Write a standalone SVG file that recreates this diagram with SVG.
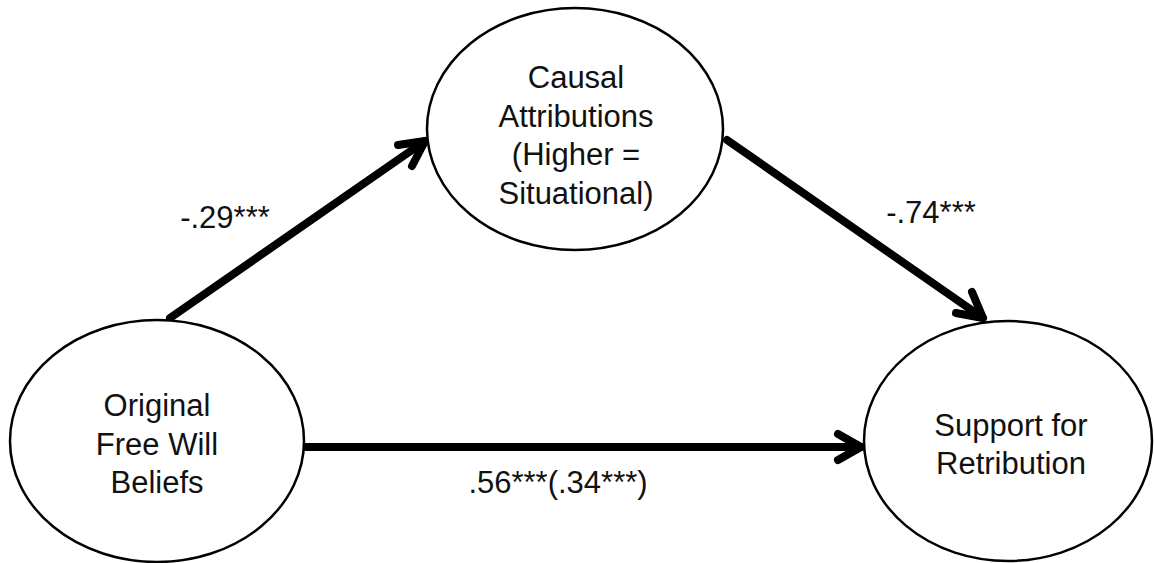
<svg xmlns="http://www.w3.org/2000/svg" width="1154" height="563" viewBox="0 0 1154 563">
<style>
.node{fill:#fff;stroke:#000;stroke-width:2.5}
text{font-family:"Liberation Sans",Arial,Helvetica,sans-serif;font-size:31px;fill:#111;text-anchor:middle}
.edge{stroke:#000;stroke-width:8;fill:none;stroke-linecap:round;stroke-linejoin:round}
</style>
<rect width="1154" height="563" fill="#fff"/>
<g id="connectors">
<path class="edge" d="M170,318 L425,141"/>
<path class="edge" d="M398,145 L425,141 L412,166"/>
<path class="edge" d="M727,140 L983,318"/>
<path class="edge" d="M956,313 L983,318 L972,292"/>
<path class="edge" d="M305,447 L861,447"/>
<path class="edge" d="M838,434 L861,447 L838,460"/>
<text x="225" y="228">-.29***</text>
<text x="931" y="223">-.74***</text>
<text x="558" y="493">.56***(.34***)</text>
</g>
<g id="node-causal">
<ellipse class="node" cx="575" cy="129" rx="148" ry="121"/>
<text x="576" y="88">Causal</text>
<text x="576" y="126.5">Attributions</text>
<text x="576" y="165">(Higher =</text>
<text x="576" y="203.5">Situational)</text>
</g>
<g id="node-free-will">
<ellipse class="node" cx="157" cy="441" rx="147" ry="121"/>
<text x="157" y="416">Original</text>
<text x="157" y="455">Free Will</text>
<text x="157" y="493">Beliefs</text>
</g>
<g id="node-retribution">
<ellipse class="node" cx="1008" cy="441" rx="144" ry="120"/>
<text x="1011" y="436">Support for</text>
<text x="1011" y="474">Retribution</text>
</g>
</svg>
